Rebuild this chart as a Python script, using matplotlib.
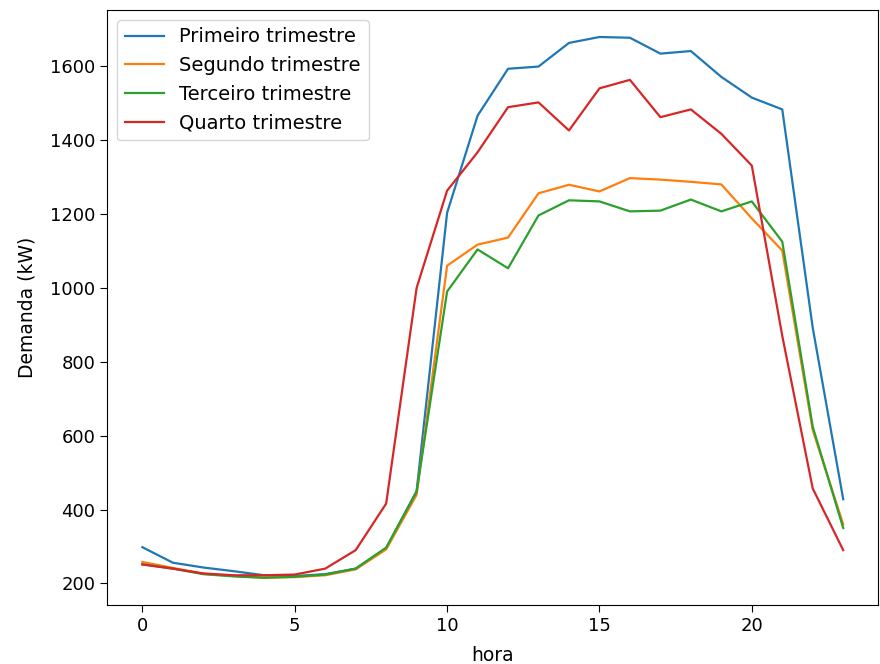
import numpy as np
import matplotlib
matplotlib.use('Agg')
import matplotlib.pyplot as plt

## demanda media por hora, em kW
horas=list(range(24))

primeiro=[298,256,243,233,222,220,225,240,295,450,1203,1466,1593,1599,1663,1679,1677,1634,1641,1571,1515,1483,892,428]
segundo=[258,242,226,220,216,217,222,238,292,440,1060,1117,1136,1256,1279,1261,1297,1293,1287,1280,1188,1101,615,360]
terceiro=[252,240,225,219,215,218,224,240,297,448,990,1104,1053,1196,1237,1234,1207,1209,1239,1207,1234,1125,624,350]
quarto=[251,240,227,222,222,224,240,290,416,1000,1263,1367,1489,1502,1426,1540,1563,1462,1483,1417,1331,870,457,290]

series=[primeiro,segundo,terceiro,quarto]
nomes=['Primeiro trimestre','Segundo trimestre','Terceiro trimestre','Quarto trimestre']

fig=plt.figure(figsize=(8.8,6.64),dpi=100)
ax=fig.add_axes([0.122,0.089,0.876,0.896])

for s,n in zip(series,nomes):
    ax.plot(horas,s,label=n,linewidth=1.6)

ax.set_xlabel('hora',fontsize=13.5,labelpad=8)
ax.set_ylabel('Demanda (kW)',fontsize=13.5,labelpad=10)
ax.tick_params(labelsize=13,length=5)
ax.legend(loc='upper left',fontsize=14)

fig.savefig('out.png',dpi=100)
